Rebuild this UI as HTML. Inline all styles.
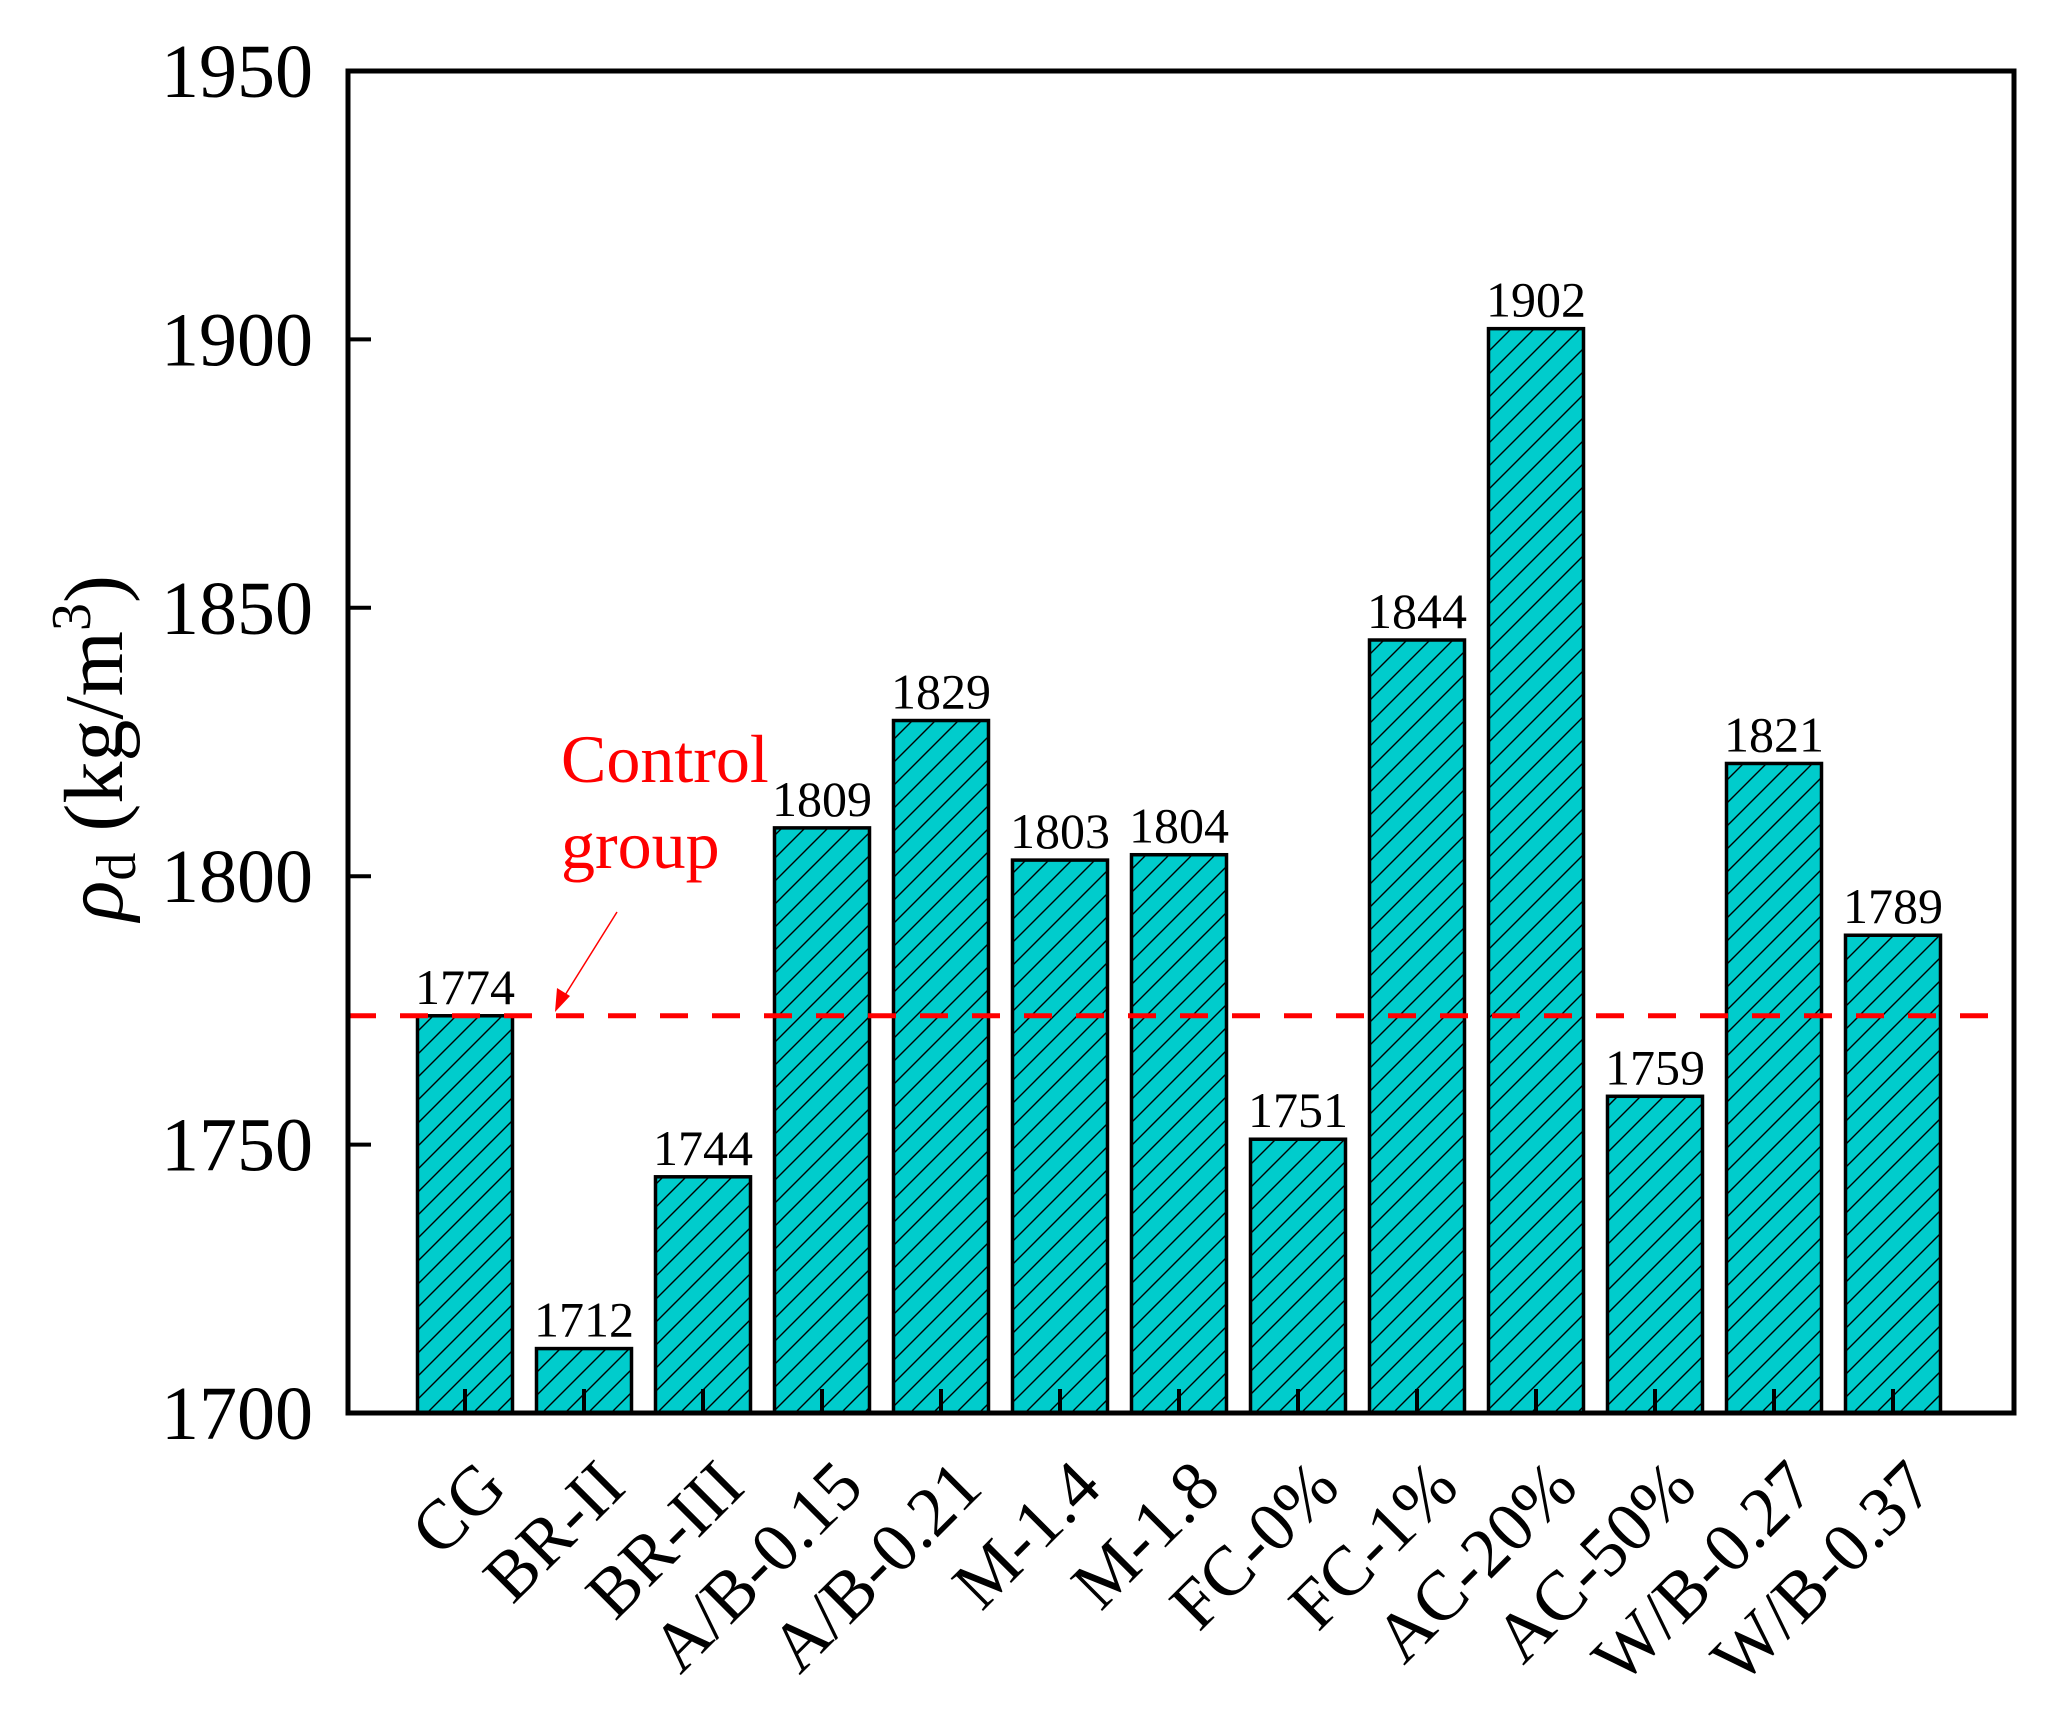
<!DOCTYPE html>
<html><head><meta charset="utf-8"><style>
html,body{margin:0;padding:0;background:#fff;}
svg{display:block;font-family:"Liberation Serif",serif;}
</style></head><body>
<svg id="chart" width="2066" height="1724" viewBox="0 0 2066 1724" xmlns="http://www.w3.org/2000/svg">
<defs>
<pattern id="hatch" patternUnits="userSpaceOnUse" width="23" height="23">
<rect width="23" height="23" fill="#00CCCC"/>
<path d="M-2,25 L25,-2 M-13,13 L13,-13 M10,36 L36,10" stroke="#000" stroke-width="1.4"/>
</pattern>
</defs>
<g id="bars"></g>
<g id="valueLabels"></g>
<line id="ctrl" stroke="#FF0000" stroke-width="5" stroke-dasharray="28,24"/>
<g id="yaxis"></g>
<g id="xaxis"></g>
<rect x="348" y="71" width="1666" height="1342" fill="none" stroke="#000" stroke-width="5"/>
<text transform="translate(122,748) rotate(-90)" text-anchor="middle" font-size="84"><tspan font-style="italic">ρ</tspan><tspan font-size="56" dy="13">d</tspan><tspan dy="-13"> (kg/m</tspan><tspan font-size="56" dy="-32">3</tspan><tspan dy="32">)</tspan></text>
<text x="561" y="782" fill="#FF0000" font-size="68">Control</text>
<text x="561" y="868" fill="#FF0000" font-size="68">group</text>
<line x1="617" y1="912" x2="562" y2="1000" stroke="#FF0000" stroke-width="1.5"/>
<polygon points="555,1012 557,988 570,996" fill="#FF0000"/>
</svg>
<script>
const categories=["CG","BR-II","BR-III","A/B-0.15","A/B-0.21","M-1.4","M-1.8","FC-0%","FC-1%","AC-20%","AC-50%","W/B-0.27","W/B-0.37"];
const values=[1774,1712,1744,1809,1829,1803,1804,1751,1844,1902,1759,1821,1789];
const yTicks=[1700,1750,1800,1850,1900,1950];
const controlValue=1774;
const NS="http://www.w3.org/2000/svg";
const L=348,R=2014,T=71,B=1413,ymin=1700,ymax=1950;
const y=v=>B-(v-ymin)/(ymax-ymin)*(B-T);
const x=i=>465+i*119;
const bw=95;
function mk(tag,attrs,parent){const e=document.createElementNS(NS,tag);for(const k in attrs)e.setAttribute(k,attrs[k]);parent.appendChild(e);return e;}
const gb=document.getElementById('bars'),gv=document.getElementById('valueLabels'),gy=document.getElementById('yaxis'),gx=document.getElementById('xaxis');
values.forEach((v,i)=>{
 const r=mk('rect',{x:x(i)-bw/2,y:y(v),width:bw,height:B-y(v),fill:'url(#hatch)',stroke:'#000','stroke-width':3.5},gb);
 
 
 const t=mk('text',{x:x(i),y:y(v)-12,'text-anchor':'middle','font-size':50},gv);
 t.textContent=v;
 
 
 const tk=mk('line',{x1:x(i),x2:x(i),y1:B,y2:B-24,stroke:'#000','stroke-width':4},gx);
 
 
 const lx=x(i)+44,ly=1490;
 const xl=mk('text',{x:lx,y:ly,'text-anchor':'end','font-size':70,transform:`rotate(-45 ${lx} ${ly})`},gx);
 xl.textContent=categories[i];
 
 
});
yTicks.forEach(v=>{
 const tk=mk('line',{x1:L,x2:L+23,y1:y(v),y2:y(v),stroke:'#000','stroke-width':4},gy);
 
 
 const t=mk('text',{x:313,y:y(v)+26,'text-anchor':'end','font-size':76},gy);
 t.textContent=v;
 
 
});
const c=document.getElementById('ctrl');
c.setAttribute('x1',L);c.setAttribute('x2',R);c.setAttribute('y1',y(controlValue));c.setAttribute('y2',y(controlValue));
</script>
</body></html>
